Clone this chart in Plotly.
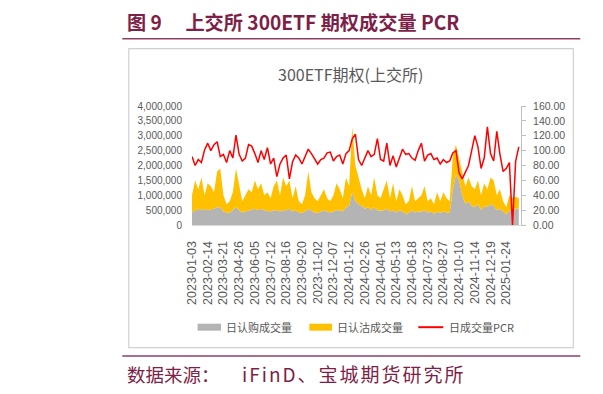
import plotly.graph_objects as go

# ---------------- data ----------------
dates = [
    "2023-01-03", "2023-01-10", "2023-01-17", "2023-01-31", "2023-02-07",
    "2023-02-14", "2023-02-21", "2023-02-28", "2023-03-07", "2023-03-14",
    "2023-03-21", "2023-03-28", "2023-04-04", "2023-04-11", "2023-04-18",
    "2023-04-26", "2023-05-05", "2023-05-12", "2023-05-19", "2023-05-26",
    "2023-06-05", "2023-06-12", "2023-06-19", "2023-06-28", "2023-07-05",
    "2023-07-12", "2023-07-19", "2023-07-26", "2023-08-02", "2023-08-09",
    "2023-08-16", "2023-08-23", "2023-08-30", "2023-09-06", "2023-09-13",
    "2023-09-20", "2023-09-27", "2023-10-11", "2023-10-18", "2023-10-25",
    "2023-11-02", "2023-11-09", "2023-11-16", "2023-11-23", "2023-11-30",
    "2023-12-07", "2023-12-14", "2023-12-21", "2023-12-28", "2024-01-05",
    "2024-01-12", "2024-01-19", "2024-01-26", "2024-02-02", "2024-02-19",
    "2024-02-26", "2024-03-04", "2024-03-11", "2024-03-18", "2024-03-25",
    "2024-04-01", "2024-04-09", "2024-04-16", "2024-04-23", "2024-04-30",
    "2024-05-13", "2024-05-20", "2024-05-27", "2024-06-03", "2024-06-11",
    "2024-06-18", "2024-06-25", "2024-07-02", "2024-07-09", "2024-07-16",
    "2024-07-23", "2024-07-30", "2024-08-06", "2024-08-13", "2024-08-20",
    "2024-08-27", "2024-09-03", "2024-09-10", "2024-09-19", "2024-09-26",
    "2024-10-10", "2024-10-17", "2024-10-24", "2024-10-31", "2024-11-07",
    "2024-11-14", "2024-11-21", "2024-11-28", "2024-12-05", "2024-12-12",
    "2024-12-19", "2024-12-26", "2025-01-03", "2025-01-10", "2025-01-17",
    "2025-01-24", "2025-02-10", "2025-02-17", "2025-02-24", "2025-02-28",
]

call_vol = [
    420000, 500000, 550000, 500000, 550000, 500000, 520000, 550000, 600000, 600000,
    450000, 400000, 420000, 500000, 600000, 500000, 420000, 450000, 480000, 500000,
    550000, 500000, 550000, 500000, 480000, 450000, 500000, 500000, 450000, 500000,
    500000, 550000, 450000, 500000, 420000, 400000, 450000, 550000, 480000, 420000,
    400000, 450000, 500000, 450000, 420000, 450000, 500000, 500000, 450000, 600000,
    650000, 1100000, 800000, 700000, 650000, 550000, 600000, 500000, 600000, 500000,
    480000, 500000, 550000, 450000, 500000, 420000, 500000, 450000, 380000, 400000,
    500000, 420000, 450000, 450000, 500000, 420000, 450000, 380000, 450000, 400000,
    450000, 420000, 400000, 1200000, 1700000, 1500000, 1000000, 700000, 800000, 650000,
    600000, 700000, 500000, 650000, 600000, 700000, 650000, 500000, 550000, 450000,
    350000, 500000, 500000, 550000, 550000,
]

put_vol = [
    580000, 1000000, 650000, 1100000, 450000, 900000, 780000, 550000, 1200000, 1300000,
    550000, 300000, 380000, 600000, 1300000, 900000, 380000, 550000, 720000, 600000,
    950000, 700000, 850000, 500000, 620000, 450000, 800000, 1000000, 550000, 1100000,
    800000, 950000, 450000, 800000, 380000, 300000, 550000, 1250000, 620000, 480000,
    400000, 550000, 700000, 450000, 380000, 550000, 900000, 700000, 450000, 1000000,
    650000, 2200000, 1200000, 900000, 550000, 350000, 700000, 500000, 1000000, 500000,
    420000, 700000, 950000, 450000, 900000, 380000, 700000, 550000, 320000, 400000,
    800000, 380000, 450000, 550000, 800000, 380000, 450000, 320000, 650000, 400000,
    650000, 480000, 400000, 1100000, 1000000, 700000, 700000, 600000, 800000, 650000,
    600000, 800000, 500000, 750000, 600000, 900000, 850000, 500000, 650000, 350000,
    250000, 500000, 400000, 400000, 350000,
]

pcr = [
    92, 80, 88, 84, 101, 110, 100, 108, 112, 92,
    95, 84, 100, 90, 121, 95, 86, 90, 108, 106,
    96, 84, 100, 88, 104, 82, 90, 65, 82, 90,
    94, 62, 85, 94, 90, 82, 92, 102, 96, 88,
    82, 88, 90, 97, 98, 86, 92, 94, 82, 96,
    100, 116, 122, 88, 80, 90, 100, 92, 95, 116,
    88, 86, 110, 80, 93, 78, 90, 102, 95, 96,
    90, 87, 100, 110, 86, 94, 96, 88, 90, 82,
    88, 84, 86, 97, 100, 70, 62, 70, 80, 100,
    120, 105, 76, 90, 132, 96, 86, 126, 95, 72,
    76, 84, 0, 86, 105,
]

tick_labels = [
    "2023-01-03", "2023-02-14", "2023-03-21", "2023-04-26", "2023-06-05",
    "2023-07-12", "2023-08-16", "2023-09-20", "2023-11-02", "2023-12-07",
    "2024-01-12", "2024-02-26", "2024-04-01", "2024-05-13", "2024-06-18",
    "2024-07-23", "2024-08-27", "2024-10-10", "2024-11-14", "2024-12-19",
    "2025-01-24",
]
left_ticks = [0, 500000, 1000000, 1500000, 2000000, 2500000, 3000000, 3500000, 4000000]
right_ticks = [0, 20, 40, 60, 80, 100, 120, 140, 160]

names = ["日认购成交量", "日认沽成交量", "日成交量PCR"]
fig_title = "图 9\u3000 上交所 300ETF 期权成交量 PCR"
chart_title = "300ETF期权(上交所)"
source_label = "数据来源："
source_body = "iFinD、宝城期货研究所"

# ---------------- layout geometry (page pixels) ----------------
W, H = 603, 394
OFF = 8  # the page body offsets the figure by 8px
L, R, T, B = 191.7, 520.7, 105.7, 225.3


def px(x):
    return (x - L) / (R - L)


def py(y):
    return (B - y) / (B - T)


GREY = "#b4b4b4"
YELLOW = "#ffc000"
RED = "#ff0000"
TXT = "#595959"
MAROON = "#7d1f47"
RULE = "#8e4064"
CJK = "Noto Sans CJK SC"
LAT = "Liberation Sans"

fig = go.Figure()
fig.add_trace(go.Scatter(x=dates, y=call_vol, name=names[0], stackgroup="vol",
                         mode="lines", line=dict(width=0, color=GREY),
                         fillcolor=GREY, hoverinfo="skip"))
fig.add_trace(go.Scatter(x=dates, y=put_vol, name=names[1], stackgroup="vol",
                         mode="lines", line=dict(width=0, color=YELLOW),
                         fillcolor=YELLOW, hoverinfo="skip"))
fig.add_trace(go.Scatter(x=dates, y=pcr, name=names[2], yaxis="y2",
                         mode="lines", line=dict(width=1.5, color=RED)))

fig.update_layout(
    width=W, height=H,
    margin=dict(l=L - OFF, r=W - (R - OFF), t=T - OFF, b=H - (B - OFF), pad=0),
    paper_bgcolor="white", plot_bgcolor="rgba(0,0,0,0)",
    showlegend=False,
    xaxis=dict(type="category", categoryorder="array", categoryarray=dates,
               range=[0, 104.7], tickmode="array", tickvals=tick_labels,
               ticktext=tick_labels, tickangle=-90,
               tickfont=dict(family=LAT, size=12.5, color=TXT),
               showline=True, linecolor="#d9d9d9", linewidth=1,
               showgrid=False, zeroline=False, ticks="", ticklabelstandoff=10),
    yaxis=dict(range=[0, 4000000], tickmode="array", tickvals=left_ticks,
               tickformat=",", showgrid=False, zeroline=False, showline=False,
               ticks="", tickfont=dict(family=LAT, size=10, color=TXT),
               ticklabelstandoff=9),
    yaxis2=dict(range=[0, 160], overlaying="y", side="right", tickmode="array",
                tickvals=right_ticks, tickformat=".2f", showgrid=False,
                zeroline=False, showline=True, linecolor="#bfbfbf", linewidth=1,
                ticks="outside", ticklen=4, tickcolor="#bfbfbf",
                tickfont=dict(family=LAT, size=10.5, color=TXT),
                ticklabelstandoff=5),
)

shapes = []
# outer page rules
for yy in (38, 357):
    shapes.append(dict(type="line", xref="paper", yref="paper",
                       x0=px(122), x1=px(580), y0=py(yy), y1=py(yy),
                       line=dict(color=RULE, width=1.5)))
    shapes.append(dict(type="line", xref="paper", yref="paper",
                       x0=px(598), x1=px(615), y0=py(yy), y1=py(yy),
                       line=dict(color=RULE, width=1.5)))
# chart frame
shapes.append(dict(type="rect", xref="paper", yref="paper",
                   x0=px(128.5), x1=px(573), y0=py(348.5), y1=py(48),
                   line=dict(color="#d0d0d0", width=1.2), layer="below"))
shapes.append(dict(type="line", xref="paper", yref="paper",
                   x0=px(600.5), x1=px(600.5), y0=py(348.5), y1=py(48),
                   line=dict(color="#d0d0d0", width=1.2)))
shapes.append(dict(type="line", xref="paper", yref="paper",
                   x0=px(600.5), x1=px(615), y0=py(48), y1=py(48),
                   line=dict(color="#d0d0d0", width=1.2)))
# legend keys
shapes.append(dict(type="rect", xref="paper", yref="paper",
                   x0=px(197.3), x1=px(220.7), y0=py(331.5), y1=py(324.5),
                   fillcolor=GREY, line=dict(width=0)))
shapes.append(dict(type="rect", xref="paper", yref="paper",
                   x0=px(309), x1=px(331.7), y0=py(331.5), y1=py(324.5),
                   fillcolor=YELLOW, line=dict(width=0)))
shapes.append(dict(type="line", xref="paper", yref="paper",
                   x0=px(418), x1=px(443), y0=py(328), y1=py(328),
                   line=dict(color=RED, width=2)))
fig.update_layout(shapes=shapes)

ann = []
ann.append(dict(text="<b>" + fig_title + "</b>", xref="paper", yref="paper",
                x=px(125), y=py(21), xanchor="left", yanchor="middle",
                showarrow=False, font=dict(family=CJK, size=19.2, color=MAROON)))
ann.append(dict(text="<b>图</b>", xref="paper", yref="paper",
                x=px(597), y=py(21), xanchor="left", yanchor="middle",
                showarrow=False, font=dict(family=CJK, size=19.2, color=MAROON)))
ann.append(dict(text=source_label, xref="paper", yref="paper",
                x=px(125), y=py(375), xanchor="left", yanchor="middle",
                showarrow=False, font=dict(family=CJK, size=18.5, color=MAROON)))
ann.append(dict(text='<span style="letter-spacing:2px">' + source_body + "</span>",
                xref="paper", yref="paper",
                x=px(240), y=py(375), xanchor="left", yanchor="middle",
                showarrow=False, font=dict(family=CJK, size=19, color=MAROON)))
ann.append(dict(text="数", xref="paper", yref="paper",
                x=px(597), y=py(375), xanchor="left", yanchor="middle",
                showarrow=False, font=dict(family=CJK, size=18.5, color=MAROON)))
ann.append(dict(text=chart_title, xref="paper", yref="paper",
                x=px(350.5), y=py(74), xanchor="center", yanchor="middle",
                showarrow=False, font=dict(family=CJK, size=16, color=TXT)))
for name, x0 in zip(names, (223.5, 334.5, 446.5)):
    ann.append(dict(text=name, xref="paper", yref="paper",
                    x=px(x0), y=py(328), xanchor="left", yanchor="middle",
                    showarrow=False, font=dict(family=CJK, size=11, color=TXT)))
fig.update_layout(annotations=ann)

fig.write_html("out.html")
